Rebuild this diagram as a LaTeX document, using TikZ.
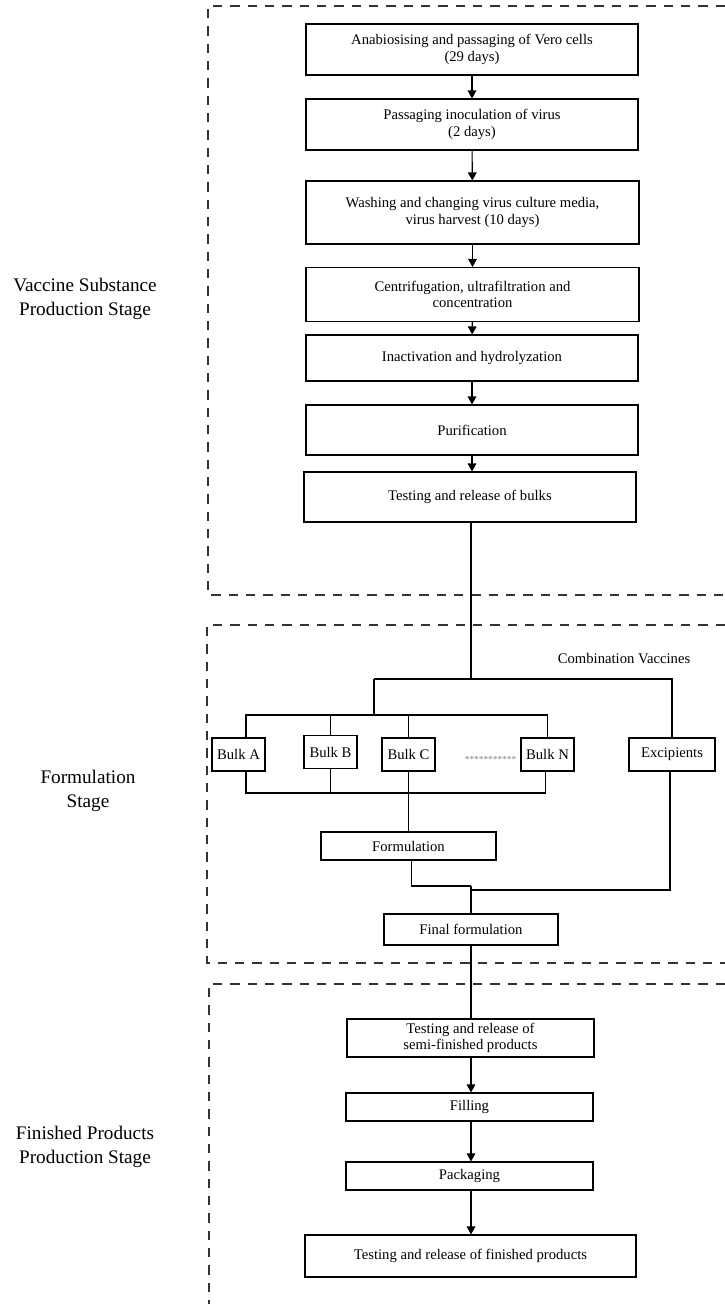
\documentclass[tikz,border=0pt]{standalone}
\usepackage{fontspec}
\setmainfont{Liberation Serif}
\usetikzlibrary{arrows.meta,positioning}

\begin{document}
\begin{tikzpicture}[
  x=0.75pt, y=-0.75pt,
  stage/.style={draw, rectangle, fill=white, line width=0.8pt,
                align=center, inner sep=0pt,
                font=\fontsize{11}{12.5}\selectfont},
  bulk/.style={stage, minimum width=39.75pt, minimum height=24.75pt},
  phase/.style={align=center, font=\fontsize{14.4}{18}\selectfont},
  region/.style={dashed, dash pattern=on 7pt off 6pt, line width=0.8pt, black!80},
  flow/.style={-{Triangle[length=6pt, width=6.5pt]}, line width=0.8pt},
  link/.style={line width=0.8pt}
]
  \useasboundingbox (0,0) rectangle (725,1304);

  \draw[region] (725,6) -- (208,6) -- (208,595) -- (725,595);
  \draw[region] (725,625) -- (207,625) -- (207,963) -- (725,963);
  \draw[region] (725,984) -- (209,984) -- (209,1304);

  \node[phase] (P1) at (85,299) {Vaccine Substance\\Production Stage};
  \node[phase] (P2) at (88,791) {Formulation\\Stage};
  \node[phase] (P3) at (85,1147) {Finished Products\\Production Stage};

  \node[stage, minimum width=249pt, minimum height=38.25pt] (anab) at (472,49.5)
    {Anabiosising and passaging of Vero cells\\(29 days)};
  \node[stage, minimum width=249pt, minimum height=38.25pt] (pass) at (472,124.5)
    {Passaging inoculation of virus\\(2 days)};
  \node[stage, minimum width=249.75pt, minimum height=47.25pt] (wash) at (472.5,212.5)
    {Washing and changing virus culture media,\\virus harvest (10 days)};
  \node[stage, minimum width=249.75pt, minimum height=40.5pt] (cent) at (472.5,294.5)
    {Centrifugation, ultrafiltration and\\concentration};
  \node[stage, minimum width=249pt, minimum height=34.5pt] (inact) at (472,358)
    {Inactivation and hydrolyzation};
  \node[stage, minimum width=249pt, minimum height=37.5pt] (purif) at (472,430)
    {Purification};
  \node[stage, minimum width=249pt, minimum height=37.5pt] (bulks) at (470,497)
    {Testing and release of bulks};

  \draw[flow] (anab) -- (pass);
  \draw[flow] (pass) -- (wash);
  \draw[flow] (wash) -- (cent);
  \draw[flow] (cent) -- (inact);
  \draw[flow] (inact) -- (purif);
  \draw[flow] (purif) -- (bulks.north -| purif);

  \node[font=\fontsize{11}{12.5}\selectfont] (combo) at (624,659) {Combination Vaccines};

  \node[bulk] (bA) at (238.5,754.5) {Bulk A};
  \node[bulk] (bB) at (330.5,752) {Bulk B};
  \node[bulk] (bC) at (408.5,754.5) {Bulk C};
  \node[bulk] (bN) at (547.5,754.5) {Bulk N};
  \node[stage, minimum width=64.5pt, minimum height=24.75pt] (excip) at (672,754.5) {Excipients};
  \node[text=gray, font=\fontsize{7}{8}\selectfont, inner sep=0pt] (dots) at (490.5,759) {***********};

  \node[stage, minimum width=131.25pt, minimum height=21pt] (form) at (408.5,846) {Formulation};
  \node[stage, minimum width=130.5pt, minimum height=23.25pt] (final) at (471,929.5) {Final formulation};

  \coordinate (split) at (471,679);
  \coordinate (splitL) at (374,679);
  \coordinate (topbus) at (0,715);
  \coordinate (lowbus) at (0,793);
  \coordinate (mergeL) at (471,886);
  \coordinate (mergeR) at (471,890);

  \draw[link] (bulks.south -| split) -- (split);
  \draw[link] (splitL) -- (split) -| (excip.north);
  \draw[link] (splitL) -- (splitL |- topbus);
  \draw[link] ([xshift=5.6pt]bA.north) |- (bN.north |- topbus) -- (bN.north);
  \draw[link] (bB.north) -- (bB.north |- topbus);
  \draw[link] (bC.north) -- (bC.north |- topbus);
  \draw[link] ([xshift=5.6pt]bA.south) |- ([xshift=-1.5pt]bN.south |- lowbus) -- ([xshift=-1.5pt]bN.south);
  \draw[link] (bB.south) -- (bB.south |- lowbus);
  \draw[link] (bC.south) -- (form.north -| bC.south);
  \draw[link] ([xshift=1.9pt]form.south) |- (mergeL);
  \draw[link] ([xshift=-1.5pt]excip.south) |- (mergeR);
  \draw[link] (mergeL) -- (final.north -| mergeL);

  \node[stage, minimum width=185.25pt, minimum height=28.5pt] (semi) at (470.5,1038)
    {Testing and release of\\semi-finished products};
  \node[stage, minimum width=185.25pt, minimum height=21pt] (fill) at (469.5,1107) {Filling};
  \node[stage, minimum width=185.25pt, minimum height=21pt] (pack) at (469.5,1176) {Packaging};
  \node[stage, minimum width=248.25pt, minimum height=31.5pt] (done) at (470.5,1256)
    {Testing and release of finished products};

  \draw[link] (final.south -| mergeL) -- (semi.north -| mergeL);
  \draw[flow] (semi.south -| mergeL) -- (fill.north -| mergeL);
  \draw[flow] (fill.south -| mergeL) -- (pack.north -| mergeL);
  \draw[flow] (pack.south -| mergeL) -- (done.north -| mergeL);
\end{tikzpicture}
\end{document}
